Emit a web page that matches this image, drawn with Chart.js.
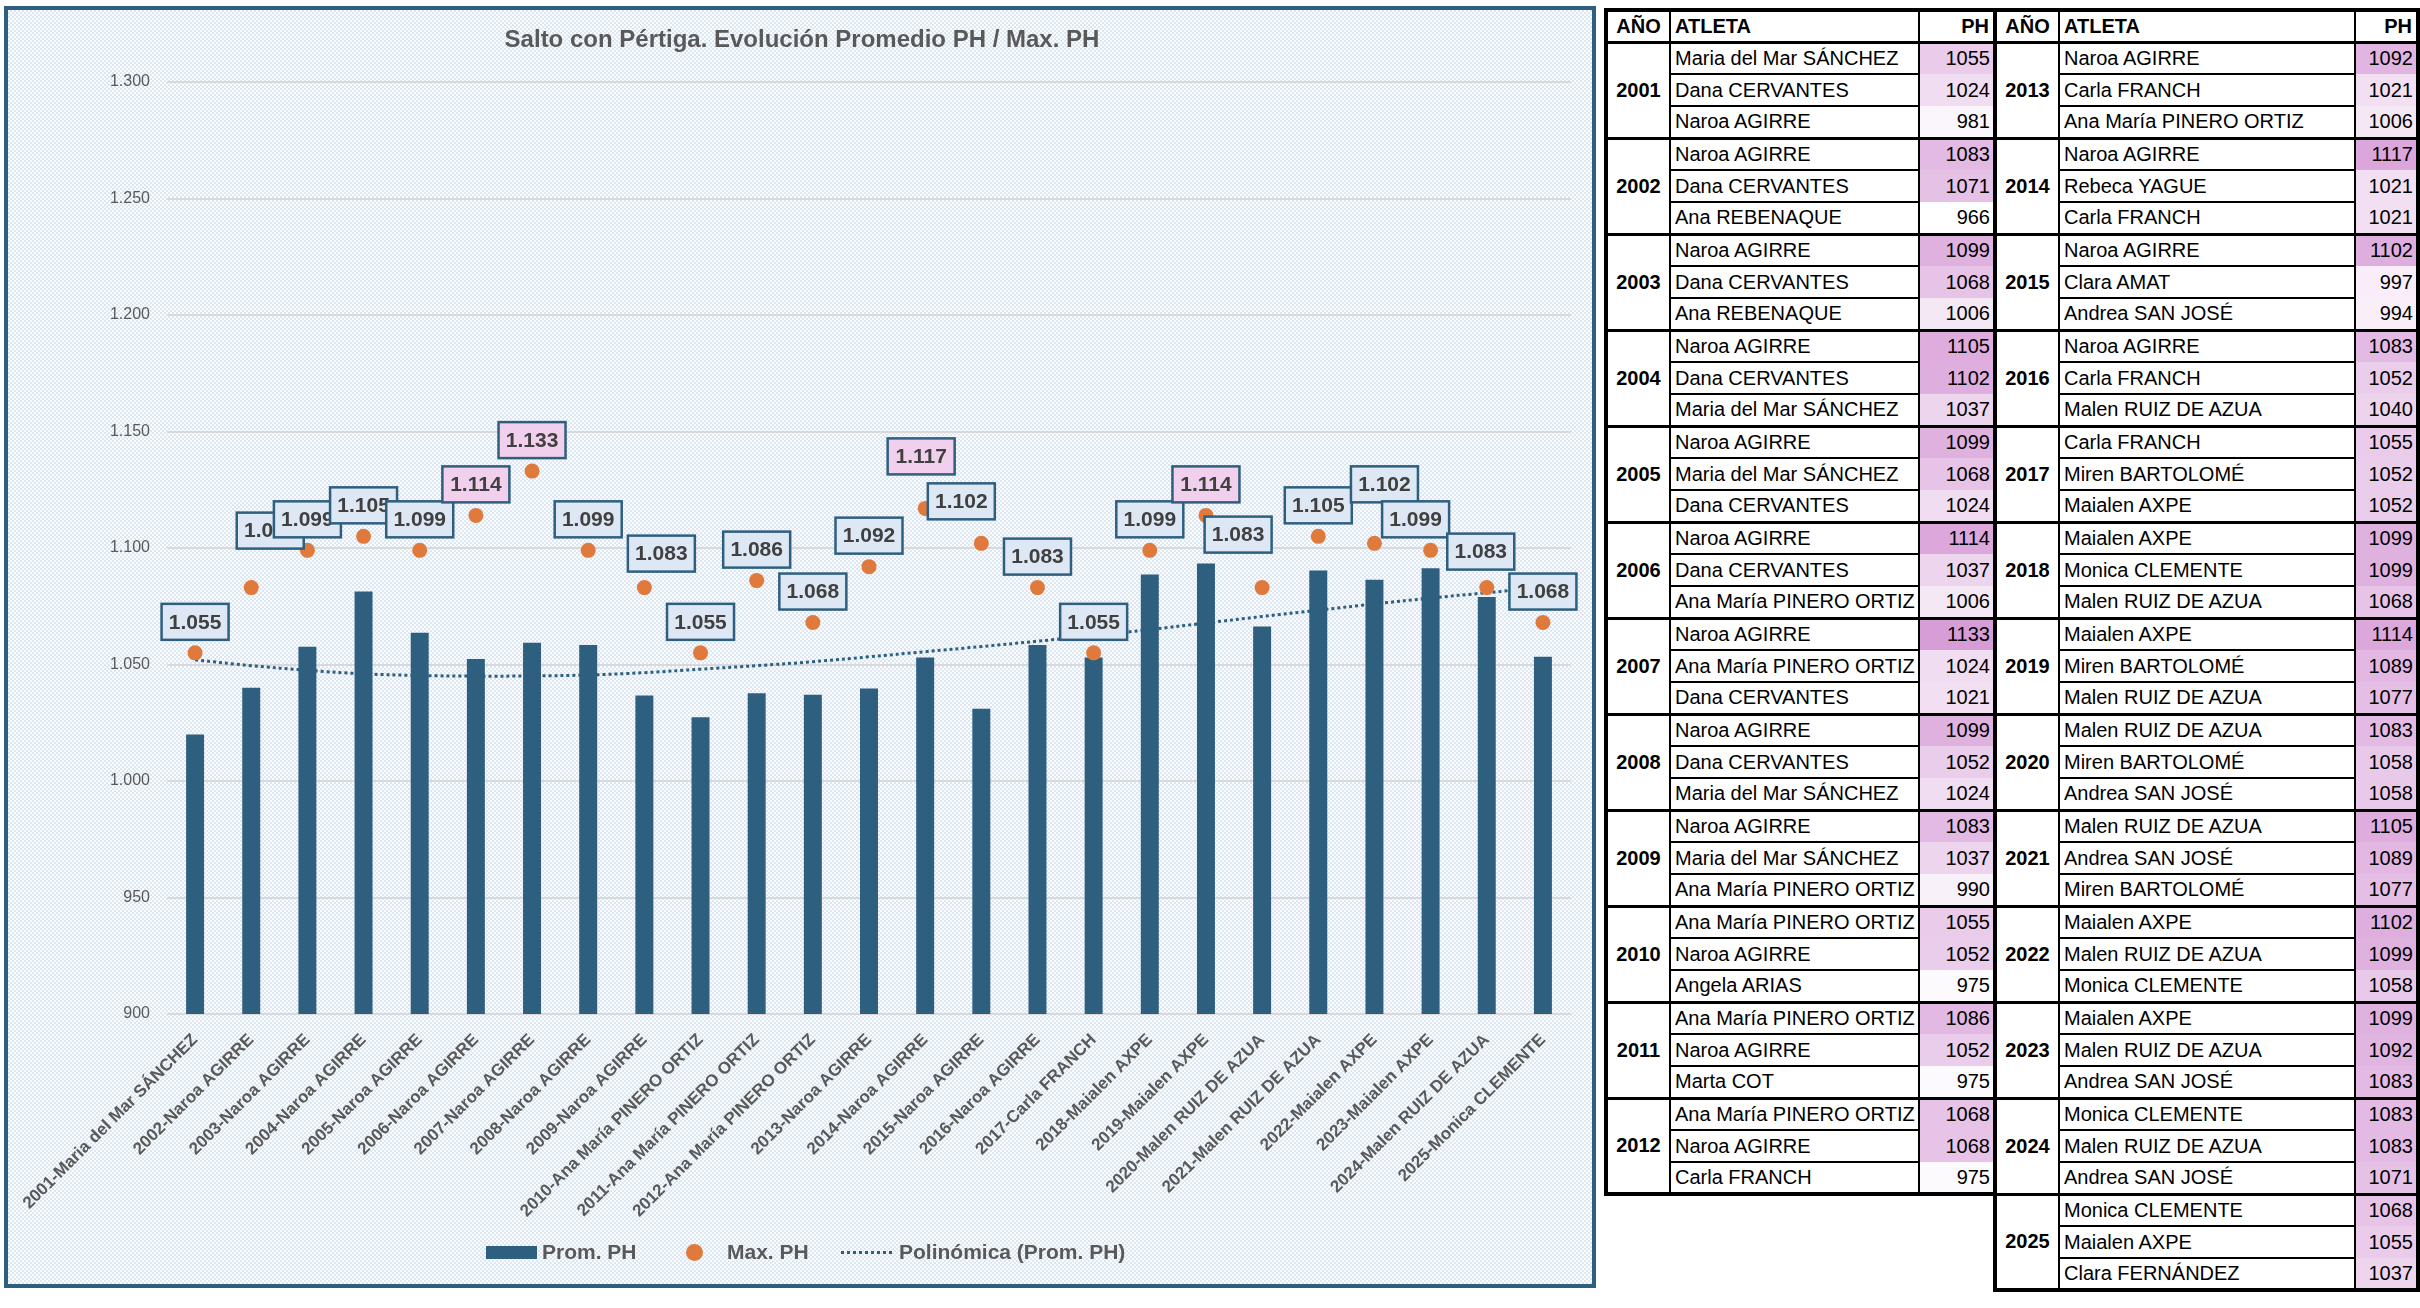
<!DOCTYPE html>
<html lang="es">
<head>
<meta charset="UTF-8" />
<title>Salto con Pértiga. Evolución Promedio PH / Max. PH</title>
<script src="https://cdn.jsdelivr.net/npm/chart.js"></script>
<style>
  body { margin: 0; background: #fff; font-family: "Liberation Sans", Arial, sans-serif; }
  #chartBox {
    position: absolute; left: 4px; top: 6px; width: 1584px; height: 1274px;
    border: 4px solid #2e5f7f;
    background: repeating-conic-gradient(#dde7f4 0 25%, #fbfcfe 0 50%) 0 0 / 4px 4px;
  }
  #chartBox canvas { position: absolute; left: 0; top: 0; }
  .lg { position: absolute; }
  .lgText { position: absolute; top: 1229px; line-height: 26px; font-size: 21px; font-weight: bold; color: #595959; white-space: nowrap; }
  table.ph {
    position: absolute; top: 8px; border-collapse: collapse; table-layout: fixed;
    border: 4px solid #000; font-size: 20px; color: #000;
  }
  table.ph tr { height: 32px; }
  table.ph th, table.ph td { border: 2px solid #000; padding: 0 4px; white-space: nowrap; overflow: hidden; }
  table.ph th { font-weight: bold; border-bottom: 3px solid #000; }
  table.ph td.yr { font-weight: bold; text-align: center; border-bottom: 3px solid #000; padding: 0 2px; }
  table.ph td.val { text-align: right; border-top: none; border-bottom: none; padding: 0 3px; }
  table.ph tr.last td { border-bottom: 3px solid #000; }
</style>
</head>
<body>
<div id="chartBox">
  <canvas id="chart" width="1584" height="1274"></canvas>
  <div class="lg" style="left:478px; top:1236px; width:51px; height:13px; background:#2e5f7f;"></div>
  <div class="lgText" style="left:534px;">Prom. PH</div>
  <div class="lg" style="left:678px; top:1234px; width:17px; height:17px; border-radius:50%; background:#df7a3c;"></div>
  <div class="lgText" style="left:719px;">Max. PH</div>
  <div class="lg" style="left:833px; top:1241px; width:51px; height:3px; background:repeating-linear-gradient(90deg,#2e5f7f 0 3px,transparent 3px 6px);"></div>
  <div class="lgText" style="left:891px;">Polinómica (Prom. PH)</div>
</div>
<table class="ph" id="tLeft" style="left:1604px; width:389px;"></table>
<table class="ph" id="tRight" style="left:1993px; width:423px;"></table>

<script>
// ---- datos ----
const years = [2001, 2002, 2003, 2004, 2005, 2006, 2007, 2008, 2009, 2010, 2011, 2012, 2013,
               2014, 2015, 2016, 2017, 2018, 2019, 2020, 2021, 2022, 2023, 2024, 2025];

const categories = [
  '2001-Maria del Mar SÁNCHEZ', '2002-Naroa AGIRRE', '2003-Naroa AGIRRE', '2004-Naroa AGIRRE',
  '2005-Naroa AGIRRE', '2006-Naroa AGIRRE', '2007-Naroa AGIRRE', '2008-Naroa AGIRRE',
  '2009-Naroa AGIRRE', '2010-Ana María PINERO ORTIZ', '2011-Ana María PINERO ORTIZ',
  '2012-Ana María PINERO ORTIZ', '2013-Naroa AGIRRE', '2014-Naroa AGIRRE', '2015-Naroa AGIRRE',
  '2016-Naroa AGIRRE', '2017-Carla FRANCH', '2018-Maialen AXPE', '2019-Maialen AXPE',
  '2020-Malen RUIZ DE AZUA', '2021-Malen RUIZ DE AZUA', '2022-Maialen AXPE', '2023-Maialen AXPE',
  '2024-Malen RUIZ DE AZUA', '2025-Monica CLEMENTE'
];

const promPH = [1020, 1040, 1057.67, 1081.33, 1063.67, 1052.33, 1059.33, 1058.33, 1036.67, 1027.33,
                1037.67, 1037, 1039.67, 1053, 1031, 1058.33, 1053, 1088.67, 1093.33, 1066.33,
                1090.33, 1086.33, 1091.33, 1079, 1053.33];

const maxPH = [1055, 1083, 1099, 1105, 1099, 1114, 1133, 1099, 1083, 1055, 1086, 1068, 1092,
               1117, 1102, 1083, 1055, 1099, 1114, 1083, 1105, 1102, 1099, 1083, 1068];

// tendencia polinómica
const trendPH = [1052, 1049.5, 1047.5, 1046, 1045.3, 1045, 1045.1, 1045.5, 1046.5, 1048, 1049.5,
                 1051.2, 1053.3, 1055.5, 1057.7, 1060, 1062.4, 1065, 1067.8, 1070.6, 1073.3, 1076,
                 1078.5, 1080.8, 1083];

const yTicks = [900, 950, 1000, 1050, 1100, 1150, 1200, 1250, 1300];

const athletes = [
  ['Maria del Mar SÁNCHEZ', 'Dana CERVANTES', 'Naroa AGIRRE'],
  ['Naroa AGIRRE', 'Dana CERVANTES', 'Ana REBENAQUE'],
  ['Naroa AGIRRE', 'Dana CERVANTES', 'Ana REBENAQUE'],
  ['Naroa AGIRRE', 'Dana CERVANTES', 'Maria del Mar SÁNCHEZ'],
  ['Naroa AGIRRE', 'Maria del Mar SÁNCHEZ', 'Dana CERVANTES'],
  ['Naroa AGIRRE', 'Dana CERVANTES', 'Ana María PINERO ORTIZ'],
  ['Naroa AGIRRE', 'Ana María PINERO ORTIZ', 'Dana CERVANTES'],
  ['Naroa AGIRRE', 'Dana CERVANTES', 'Maria del Mar SÁNCHEZ'],
  ['Naroa AGIRRE', 'Maria del Mar SÁNCHEZ', 'Ana María PINERO ORTIZ'],
  ['Ana María PINERO ORTIZ', 'Naroa AGIRRE', 'Angela ARIAS'],
  ['Ana María PINERO ORTIZ', 'Naroa AGIRRE', 'Marta COT'],
  ['Ana María PINERO ORTIZ', 'Naroa AGIRRE', 'Carla FRANCH'],
  ['Naroa AGIRRE', 'Carla FRANCH', 'Ana María PINERO ORTIZ'],
  ['Naroa AGIRRE', 'Rebeca YAGUE', 'Carla FRANCH'],
  ['Naroa AGIRRE', 'Clara AMAT', 'Andrea SAN JOSÉ'],
  ['Naroa AGIRRE', 'Carla FRANCH', 'Malen RUIZ DE AZUA'],
  ['Carla FRANCH', 'Miren BARTOLOMÉ', 'Maialen AXPE'],
  ['Maialen AXPE', 'Monica CLEMENTE', 'Malen RUIZ DE AZUA'],
  ['Maialen AXPE', 'Miren BARTOLOMÉ', 'Malen RUIZ DE AZUA'],
  ['Malen RUIZ DE AZUA', 'Miren BARTOLOMÉ', 'Andrea SAN JOSÉ'],
  ['Malen RUIZ DE AZUA', 'Andrea SAN JOSÉ', 'Miren BARTOLOMÉ'],
  ['Maialen AXPE', 'Malen RUIZ DE AZUA', 'Monica CLEMENTE'],
  ['Maialen AXPE', 'Malen RUIZ DE AZUA', 'Andrea SAN JOSÉ'],
  ['Monica CLEMENTE', 'Malen RUIZ DE AZUA', 'Andrea SAN JOSÉ'],
  ['Monica CLEMENTE', 'Maialen AXPE', 'Clara FERNÁNDEZ']
];

const marks = [
  [1055, 1024, 981], [1083, 1071, 966], [1099, 1068, 1006], [1105, 1102, 1037],
  [1099, 1068, 1024], [1114, 1037, 1006], [1133, 1024, 1021], [1099, 1052, 1024],
  [1083, 1037, 990], [1055, 1052, 975], [1086, 1052, 975], [1068, 1068, 975],
  [1092, 1021, 1006], [1117, 1021, 1021], [1102, 997, 994], [1083, 1052, 1040],
  [1055, 1052, 1052], [1099, 1099, 1068], [1114, 1089, 1077], [1083, 1058, 1058],
  [1105, 1089, 1077], [1102, 1099, 1058], [1099, 1092, 1083], [1083, 1083, 1071],
  [1068, 1055, 1037]
];

// etiquetas movidas a mano en el original (dx, dy en px)
const labelNudge = {
  2002: [19, -26], 2009: [17, -3], 2014: [-4, -21], 2015: [-20, -11],
  2020: [-24, -22], 2022: [10, -28], 2023: [-15, 0], 2024: [-6, -5]
};

const TITLE = 'Salto con Pértiga. Evolución Promedio PH / Max. PH';
const BLUE = '#2e5f7f';
const ORANGE = '#df7a3c';
const GREY = '#595959';
const FONT = '"Liberation Sans", Arial, sans-serif';

function fmt(v) {
  return String(Math.round(v)).replace(/\B(?=(\d{3})+(?!\d))/g, '.');
}

// ---- tabla ----
function shade(v) {
  let t = (v - 966) / (1133 - 966);
  t = Math.max(0, Math.min(1, t));
  const r = Math.round(255 - 40 * t), g = Math.round(255 - 98 * t), b = Math.round(255 - 40 * t);
  return `rgb(${r},${g},${b})`;
}

function buildTable(id, from, to, widths) {
  const t = document.getElementById(id);
  let html = '<colgroup>' + widths.map(w => `<col style="width:${w}px">`).join('') + '</colgroup>';
  html += '<tr><th style="text-align:center">AÑO</th><th style="text-align:left">ATLETA</th><th style="text-align:right">PH</th></tr>';
  for (let i = from; i < to; i++) {
    for (let k = 0; k < 3; k++) {
      html += `<tr${k === 2 ? ' class="last"' : ''}>`;
      if (k === 0) html += `<td class="yr" rowspan="3">${years[i]}</td>`;
      html += `<td>${athletes[i][k]}</td>`;
      html += `<td class="val" style="background:${shade(marks[i][k])}">${marks[i][k]}</td></tr>`;
    }
  }
  t.innerHTML = html;
}
buildTable('tLeft', 0, 12, [64, 249, 76]);
buildTable('tRight', 12, 25, [64, 296, 63]);

// ---- título centrado en el recuadro ----
const titlePlugin = {
  id: 'boxTitle',
  afterDraw(chart) {
    const ctx = chart.ctx;
    ctx.save();
    ctx.font = 'bold 24px ' + FONT;
    ctx.fillStyle = GREY;
    ctx.textAlign = 'center';
    ctx.textBaseline = 'middle';
    ctx.fillText(TITLE, 794, 30);
    ctx.restore();
  }
};

// ---- etiquetas de datos ----
const labelBoxes = {
  id: 'labelBoxes',
  afterDatasetsDraw(chart) {
    const meta = chart.getDatasetMeta(1);
    const ctx = chart.ctx;
    ctx.save();
    ctx.font = 'bold 21px ' + FONT;
    ctx.textAlign = 'center';
    ctx.textBaseline = 'middle';
    meta.data.forEach((pt, i) => {
      const v = maxPH[i];
      const n = labelNudge[years[i]] || [0, 0];
      const w = 67, h = 36;
      const cx = pt.x + n[0];
      const bottom = pt.y - 13 + n[1];
      ctx.fillStyle = v > 1110 ? '#f0d0ec' : '#dee8f5';
      ctx.fillRect(cx - w / 2, bottom - h, w, h);
      ctx.lineWidth = 2.5;
      ctx.strokeStyle = BLUE;
      ctx.strokeRect(cx - w / 2, bottom - h, w, h);
      ctx.fillStyle = '#404040';
      ctx.fillText(fmt(v), cx, bottom - h / 2 + 1);
    });
    ctx.restore();
  }
};

new Chart(document.getElementById('chart'), {
  data: {
    labels: categories,
    datasets: [
      {
        type: 'bar', label: 'Prom. PH', data: promPH, order: 3,
        backgroundColor: BLUE, barPercentage: 0.32, categoryPercentage: 1
      },
      {
        type: 'line', label: 'Max. PH', data: maxPH, order: 1, showLine: false,
        pointRadius: 7.5, pointHoverRadius: 7.5, pointBackgroundColor: ORANGE, pointBorderWidth: 0
      },
      {
        type: 'line', label: 'Polinómica (Prom. PH)', data: trendPH, order: 2,
        borderColor: BLUE, borderWidth: 3, borderDash: [3, 3], pointRadius: 0, tension: 0.4, fill: false
      }
    ]
  },
  options: {
    responsive: false,
    animation: false,
    layout: { padding: { left: 0, right: 21, top: 72, bottom: 60 } },
    plugins: {
      legend: { display: false },
      tooltip: { enabled: false },
      title: { display: false }
    },
    scales: {
      x: {
        grid: { display: false },
        border: { display: false },
        ticks: {
          autoSkip: false, maxRotation: 45, minRotation: 45, padding: 8,
          color: GREY, font: { family: FONT, size: 17, weight: 'bold' }
        },
        afterFit(scale) { scale.height = 210; }
      },
      y: {
        min: yTicks[0], max: yTicks[yTicks.length - 1],
        afterBuildTicks(scale) { scale.ticks = yTicks.map(v => ({ value: v })); },
        grid: { color: '#d9d9d9', lineWidth: 2, drawTicks: false },
        border: { display: false },
        ticks: {
          padding: 17, color: GREY, font: { family: FONT, size: 16 },
          callback: v => fmt(v)
        },
        afterFit(scale) { scale.width = 159; }
      }
    }
  },
  plugins: [labelBoxes, titlePlugin]
});
</script>
</body>
</html>
